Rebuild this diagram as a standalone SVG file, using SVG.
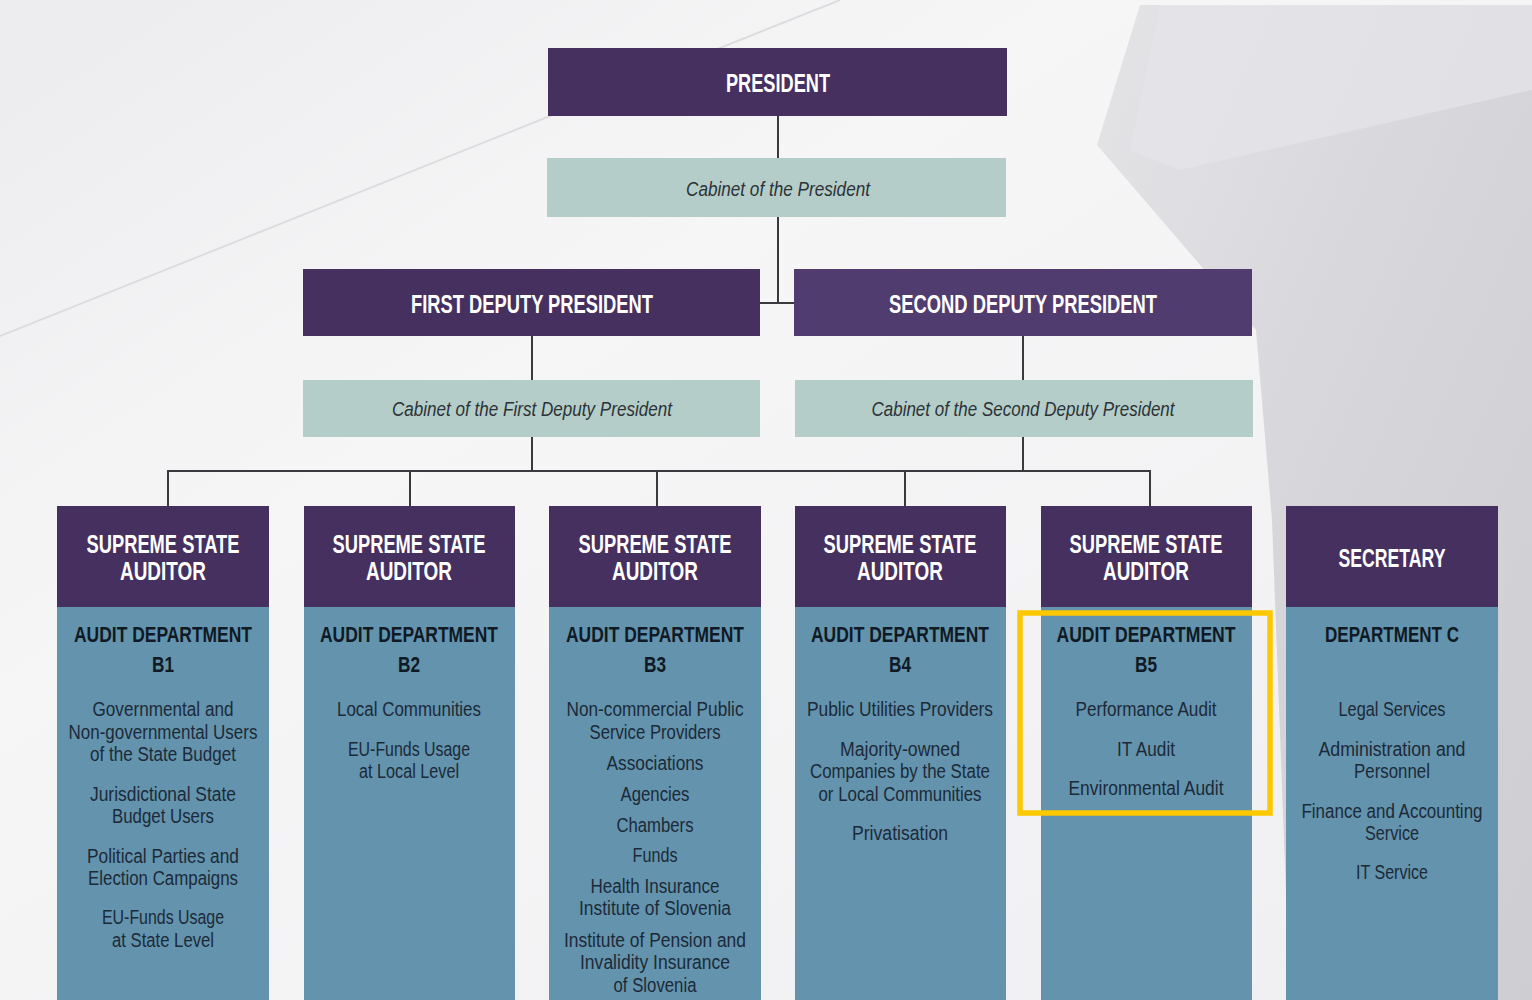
<svg xmlns="http://www.w3.org/2000/svg" width="1532" height="1000" viewBox="0 0 1532 1000">
<defs>
<linearGradient id="bg" x1="0" y1="0" x2="1" y2="1">
<stop offset="0" stop-color="#ececee"/>
<stop offset="0.35" stop-color="#f6f6f7"/>
<stop offset="1" stop-color="#efeff1"/>
</linearGradient>
<linearGradient id="photo" x1="0" y1="0" x2="1" y2="1">
<stop offset="0" stop-color="#e4e4e7"/>
<stop offset="0.5" stop-color="#d6d6da"/>
<stop offset="1" stop-color="#cdcdd2"/>
</linearGradient>
<style>
.conn{stroke:#3a3a3e;stroke-width:2;fill:none}
.purple{fill:#46305f}
.purple2{fill:#503c6f}
.cab{fill:#b5cdc8}
.body{fill:#6393ad}
.t{font-family:"Liberation Sans Narrow","Liberation Sans",Arial,sans-serif;text-anchor:middle}
.hw{fill:#ffffff;font-weight:bold;font-size:25px}
.hd{fill:#0f1a24;font-weight:bold;font-size:22px}
.it{fill:#2b3338;font-style:italic;font-size:20px}
.b{fill:#1c2a38;font-size:20px}
</style>
</defs>
<rect x="0" y="0" width="1532" height="1000" fill="url(#bg)"/>
<polygon points="1140,5 1532,5 1532,1000 1290,1000 1272,520 1256,330 1097,145" fill="url(#photo)"/>
<polygon points="1160,5 1532,5 1532,90 1180,170 1130,150" fill="#e6e6e9" opacity="0.7"/>
<line x1="0" y1="336" x2="840" y2="0" stroke="#dddde0" stroke-width="2"/>

<g id="connectors">
<line class="conn" x1="778" y1="116" x2="778" y2="158"/>
<line class="conn" x1="778" y1="217" x2="778" y2="303"/>
<line class="conn" x1="760" y1="303" x2="794" y2="303"/>
<line class="conn" x1="532" y1="336" x2="532" y2="380"/>
<line class="conn" x1="1023" y1="336" x2="1023" y2="380"/>
<line class="conn" x1="532" y1="437" x2="532" y2="471"/>
<line class="conn" x1="1023" y1="437" x2="1023" y2="471"/>
<line class="conn" x1="167" y1="471" x2="1151" y2="471"/>
<line class="conn" x1="168" y1="471" x2="168" y2="506"/>
<line class="conn" x1="410" y1="471" x2="410" y2="506"/>
<line class="conn" x1="657" y1="471" x2="657" y2="506"/>
<line class="conn" x1="905" y1="471" x2="905" y2="506"/>
<line class="conn" x1="1150" y1="471" x2="1150" y2="506"/>
</g>

<g id="president">
<rect class="purple" x="548" y="48" width="459" height="68"/>
<text class="t hw" x="778" y="92" textLength="104" lengthAdjust="spacingAndGlyphs">PRESIDENT</text>
</g>
<g id="cabinet-president">
<rect class="cab" x="547" y="158" width="459" height="59"/>
<text class="t it" x="778" y="196" textLength="184" lengthAdjust="spacingAndGlyphs">Cabinet of the President</text>
</g>
<g id="first-deputy">
<rect class="purple" x="303" y="269" width="457" height="67"/>
<text class="t hw" x="532" y="313" textLength="242" lengthAdjust="spacingAndGlyphs">FIRST DEPUTY PRESIDENT</text>
</g>
<g id="second-deputy">
<rect class="purple2" x="794" y="269" width="458" height="67"/>
<text class="t hw" x="1023" y="313" textLength="268" lengthAdjust="spacingAndGlyphs">SECOND DEPUTY PRESIDENT</text>
</g>
<g id="cabinet-first-deputy">
<rect class="cab" x="303" y="380" width="457" height="57"/>
<text class="t it" x="532" y="416" textLength="280" lengthAdjust="spacingAndGlyphs">Cabinet of the First Deputy President</text>
</g>
<g id="cabinet-second-deputy">
<rect class="cab" x="795" y="380" width="458" height="57"/>
<text class="t it" x="1023" y="416" textLength="303" lengthAdjust="spacingAndGlyphs">Cabinet of the Second Deputy President</text>
</g>

<g id="col-b1">
<rect class="purple" x="57" y="506" width="212" height="101"/>
<rect class="body" x="57" y="607" width="212" height="393"/>
<text class="t hw" x="163" y="553" textLength="153" lengthAdjust="spacingAndGlyphs">SUPREME STATE</text>
<text class="t hw" x="163" y="580" textLength="86" lengthAdjust="spacingAndGlyphs">AUDITOR</text>
<text class="t hd" x="163" y="642" textLength="178" lengthAdjust="spacingAndGlyphs">AUDIT DEPARTMENT</text>
<text class="t hd" x="163" y="672" textLength="22" lengthAdjust="spacingAndGlyphs">B1</text>
<text class="t b" x="163" y="716" textLength="141" lengthAdjust="spacingAndGlyphs">Governmental and</text>
<text class="t b" x="163" y="739" textLength="189" lengthAdjust="spacingAndGlyphs">Non-governmental Users</text>
<text class="t b" x="163" y="761" textLength="146" lengthAdjust="spacingAndGlyphs">of the State Budget</text>
<text class="t b" x="163" y="801" textLength="146" lengthAdjust="spacingAndGlyphs">Jurisdictional State</text>
<text class="t b" x="163" y="823" textLength="102" lengthAdjust="spacingAndGlyphs">Budget Users</text>
<text class="t b" x="163" y="863" textLength="152" lengthAdjust="spacingAndGlyphs">Political Parties and</text>
<text class="t b" x="163" y="885" textLength="150" lengthAdjust="spacingAndGlyphs">Election Campaigns</text>
<text class="t b" x="163" y="924" textLength="122" lengthAdjust="spacingAndGlyphs">EU-Funds Usage</text>
<text class="t b" x="163" y="947" textLength="102" lengthAdjust="spacingAndGlyphs">at State Level</text>
</g>

<g id="col-b2">
<rect class="purple" x="304" y="506" width="211" height="101"/>
<rect class="body" x="304" y="607" width="211" height="393"/>
<text class="t hw" x="409" y="553" textLength="153" lengthAdjust="spacingAndGlyphs">SUPREME STATE</text>
<text class="t hw" x="409" y="580" textLength="86" lengthAdjust="spacingAndGlyphs">AUDITOR</text>
<text class="t hd" x="409" y="642" textLength="178" lengthAdjust="spacingAndGlyphs">AUDIT DEPARTMENT</text>
<text class="t hd" x="409" y="672" textLength="22" lengthAdjust="spacingAndGlyphs">B2</text>
<text class="t b" x="409" y="716" textLength="144" lengthAdjust="spacingAndGlyphs">Local Communities</text>
<text class="t b" x="409" y="756" textLength="122" lengthAdjust="spacingAndGlyphs">EU-Funds Usage</text>
<text class="t b" x="409" y="778" textLength="100" lengthAdjust="spacingAndGlyphs">at Local Level</text>
</g>

<g id="col-b3">
<rect class="purple" x="549" y="506" width="212" height="101"/>
<rect class="body" x="549" y="607" width="212" height="393"/>
<text class="t hw" x="655" y="553" textLength="153" lengthAdjust="spacingAndGlyphs">SUPREME STATE</text>
<text class="t hw" x="655" y="580" textLength="86" lengthAdjust="spacingAndGlyphs">AUDITOR</text>
<text class="t hd" x="655" y="642" textLength="178" lengthAdjust="spacingAndGlyphs">AUDIT DEPARTMENT</text>
<text class="t hd" x="655" y="672" textLength="22" lengthAdjust="spacingAndGlyphs">B3</text>
<text class="t b" x="655" y="716" textLength="177" lengthAdjust="spacingAndGlyphs">Non-commercial Public</text>
<text class="t b" x="655" y="739" textLength="131" lengthAdjust="spacingAndGlyphs">Service Providers</text>
<text class="t b" x="655" y="770" textLength="97" lengthAdjust="spacingAndGlyphs">Associations</text>
<text class="t b" x="655" y="801" textLength="69" lengthAdjust="spacingAndGlyphs">Agencies</text>
<text class="t b" x="655" y="832" textLength="77" lengthAdjust="spacingAndGlyphs">Chambers</text>
<text class="t b" x="655" y="862" textLength="45" lengthAdjust="spacingAndGlyphs">Funds</text>
<text class="t b" x="655" y="893" textLength="129" lengthAdjust="spacingAndGlyphs">Health Insurance</text>
<text class="t b" x="655" y="915" textLength="152" lengthAdjust="spacingAndGlyphs">Institute of Slovenia</text>
<text class="t b" x="655" y="947" textLength="182" lengthAdjust="spacingAndGlyphs">Institute of Pension and</text>
<text class="t b" x="655" y="969" textLength="150" lengthAdjust="spacingAndGlyphs">Invalidity Insurance</text>
<text class="t b" x="655" y="992" textLength="83" lengthAdjust="spacingAndGlyphs">of Slovenia</text>
</g>

<g id="col-b4">
<rect class="purple" x="795" y="506" width="211" height="101"/>
<rect class="body" x="795" y="607" width="211" height="393"/>
<text class="t hw" x="900" y="553" textLength="153" lengthAdjust="spacingAndGlyphs">SUPREME STATE</text>
<text class="t hw" x="900" y="580" textLength="86" lengthAdjust="spacingAndGlyphs">AUDITOR</text>
<text class="t hd" x="900" y="642" textLength="178" lengthAdjust="spacingAndGlyphs">AUDIT DEPARTMENT</text>
<text class="t hd" x="900" y="672" textLength="22" lengthAdjust="spacingAndGlyphs">B4</text>
<text class="t b" x="900" y="716" textLength="186" lengthAdjust="spacingAndGlyphs">Public Utilities Providers</text>
<text class="t b" x="900" y="756" textLength="120" lengthAdjust="spacingAndGlyphs">Majority-owned</text>
<text class="t b" x="900" y="778" textLength="180" lengthAdjust="spacingAndGlyphs">Companies by the State</text>
<text class="t b" x="900" y="801" textLength="163" lengthAdjust="spacingAndGlyphs">or Local Communities</text>
<text class="t b" x="900" y="840" textLength="96" lengthAdjust="spacingAndGlyphs">Privatisation</text>
</g>

<g id="col-b5">
<rect class="purple" x="1041" y="506" width="211" height="101"/>
<rect class="body" x="1041" y="607" width="211" height="393"/>
<text class="t hw" x="1146" y="553" textLength="153" lengthAdjust="spacingAndGlyphs">SUPREME STATE</text>
<text class="t hw" x="1146" y="580" textLength="86" lengthAdjust="spacingAndGlyphs">AUDITOR</text>
<text class="t hd" x="1146" y="642" textLength="179" lengthAdjust="spacingAndGlyphs">AUDIT DEPARTMENT</text>
<text class="t hd" x="1146" y="672" textLength="22" lengthAdjust="spacingAndGlyphs">B5</text>
<text class="t b" x="1146" y="716" textLength="141" lengthAdjust="spacingAndGlyphs">Performance Audit</text>
<text class="t b" x="1146" y="756" textLength="58" lengthAdjust="spacingAndGlyphs">IT Audit</text>
<text class="t b" x="1146" y="795" textLength="155" lengthAdjust="spacingAndGlyphs">Environmental Audit</text>
</g>

<g id="col-c">
<rect class="purple" x="1286" y="506" width="212" height="101"/>
<rect class="body" x="1286" y="607" width="212" height="393"/>
<text class="t hw" x="1392" y="567" textLength="107" lengthAdjust="spacingAndGlyphs">SECRETARY</text>
<text class="t hd" x="1392" y="642" textLength="134" lengthAdjust="spacingAndGlyphs">DEPARTMENT C</text>
<text class="t b" x="1392" y="716" textLength="107" lengthAdjust="spacingAndGlyphs">Legal Services</text>
<text class="t b" x="1392" y="756" textLength="147" lengthAdjust="spacingAndGlyphs">Administration and</text>
<text class="t b" x="1392" y="778" textLength="76" lengthAdjust="spacingAndGlyphs">Personnel</text>
<text class="t b" x="1392" y="818" textLength="181" lengthAdjust="spacingAndGlyphs">Finance and Accounting</text>
<text class="t b" x="1392" y="840" textLength="54" lengthAdjust="spacingAndGlyphs">Service</text>
<text class="t b" x="1392" y="879" textLength="72" lengthAdjust="spacingAndGlyphs">IT Service</text>
</g>

<g id="highlight-b5">
<rect x="1020" y="613" width="250" height="200" fill="none" stroke="#fcc800" stroke-width="5.5"/>
</g>
</svg>
